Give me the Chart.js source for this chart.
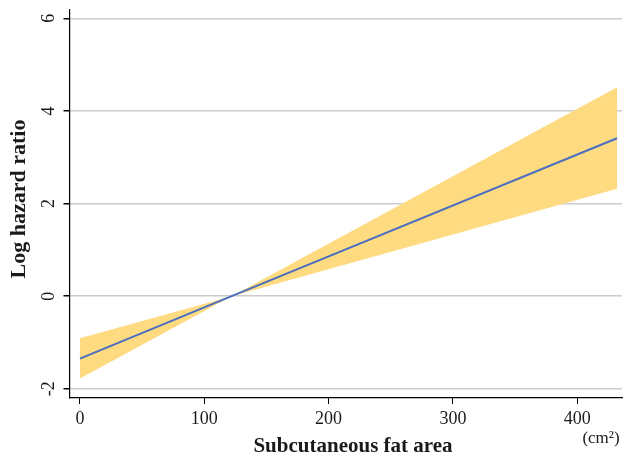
<!DOCTYPE html>
<html>
<head>
<meta charset="utf-8">
<script src="https://cdn.jsdelivr.net/npm/chart.js@4.4.1/dist/chart.umd.min.js"></script>
<style>
  html, body { margin: 0; padding: 0; background: #fff; }
  #wrap { width: 623px; height: 456px; }
</style>
</head>
<body>
<div id="wrap"><canvas id="chart" width="623" height="456"></canvas></div>
<script>
// Subcutaneous fat area (cm2)
const fatArea = [0, 122, 432];
// Log hazard ratio estimate + 95% CI
const logHR = [-1.35, 0, 3.41];
const ciUpper = [-0.91, 0, 4.51];
const ciLower = [-1.78, 0, 2.32];

const xTicks = [0, 100, 200, 300, 400];
const yTicks = [-2, 0, 2, 4, 6];

const xTitle = 'Subcutaneous fat area';
const yTitle = 'Log hazard ratio';
const unitLabel = '(cm\u00B2)';

const serif = '"Liberation Serif", "DejaVu Serif", serif';

const toPoints = (ys) => fatArea.map((x, i) => ({ x: x, y: ys[i] }));

// Draw tick labels and axis titles the Stata way (rotated y labels)
const textPlugin = {
    id: 'stataText',
    afterDraw(chart) {
        const ctx = chart.ctx;
        const xs = chart.scales.x;
        const ys = chart.scales.y;
        ctx.save();
        ctx.fillStyle = '#1a1a1a';
        ctx.textAlign = 'center';
        ctx.textBaseline = 'middle';

        ctx.font = '18px ' + serif;
        xTicks.forEach(v => {
            ctx.fillText(String(v), xs.getPixelForValue(v), 419);
        });

        yTicks.forEach(v => {
            ctx.save();
            ctx.translate(49, ys.getPixelForValue(v));
            ctx.rotate(-Math.PI / 2);
            ctx.fillText(String(v), 0, 0);
            ctx.restore();
        });

        ctx.font = 'bold 21px ' + serif;
        ctx.fillText(xTitle, 353, 447);

        ctx.font = 'bold 22px ' + serif;
        ctx.save();
        ctx.translate(19, 199);
        ctx.rotate(-Math.PI / 2);
        ctx.fillText(yTitle, 0, 0);
        ctx.restore();

        ctx.font = '17px ' + serif;
        ctx.fillText(unitLabel, 601, 439);
        ctx.restore();
    }
};

new Chart(document.getElementById('chart'), {
    type: 'line',
    data: {
        datasets: [
            {
                label: 'Log HR',
                data: toPoints(logHR),
                borderColor: '#4a6fc0',
                borderWidth: 2,
                pointRadius: 0,
                fill: false,
                order: 0
            },
            {
                label: 'Upper',
                data: toPoints(ciUpper),
                borderWidth: 0,
                borderColor: 'rgba(0,0,0,0)',
                backgroundColor: 'rgb(254, 218, 128)',
                pointRadius: 0,
                fill: '+1',
                order: 1
            },
            {
                label: 'Lower',
                data: toPoints(ciLower),
                borderWidth: 0,
                borderColor: 'rgba(0,0,0,0)',
                pointRadius: 0,
                fill: false,
                order: 1
            }
        ]
    },
    options: {
        responsive: false,
        animation: false,
        layout: { padding: { top: 10, right: 1, left: 0, bottom: 0 } },
        plugins: {
            legend: { display: false },
            tooltip: { enabled: false }
        },
        scales: {
            x: {
                type: 'linear',
                min: -8.4,
                max: 436,
                afterBuildTicks: (s) => { s.ticks = xTicks.map(v => ({ value: v })); },
                afterFit: (s) => { s.height = 58; },
                ticks: { display: false },
                grid: {
                    display: true,
                    drawOnChartArea: false,
                    drawTicks: true,
                    tickLength: 6,
                    tickColor: '#000'
                },
                border: { display: true, color: '#000', width: 1.2 }
            },
            y: {
                type: 'linear',
                min: -2.2,
                max: 6.18,
                afterBuildTicks: (s) => { s.ticks = yTicks.map(v => ({ value: v })); },
                afterFit: (s) => { s.width = 69.5; },
                ticks: { display: false },
                grid: {
                    color: '#cccccc',
                    lineWidth: 1.5,
                    drawTicks: true,
                    tickLength: 6,
                    tickColor: '#000'
                },
                border: { display: true, color: '#000', width: 1.2 }
            }
        }
    },
    plugins: [textPlugin]
});
</script>
</body>
</html>
